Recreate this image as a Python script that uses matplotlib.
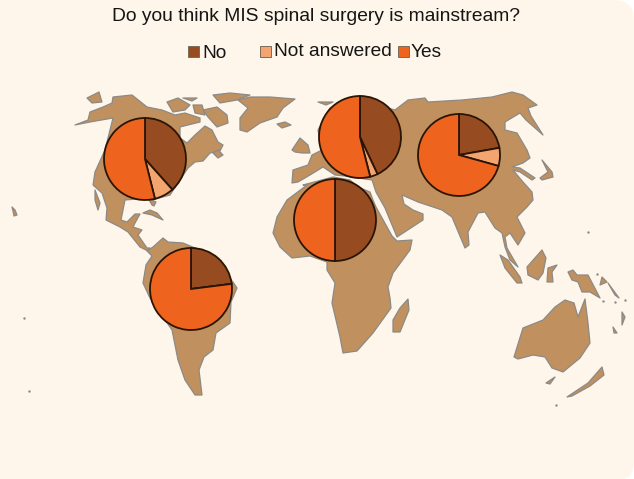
import matplotlib
matplotlib.use("Agg")
import matplotlib.pyplot as plt
from matplotlib.patches import PathPatch, Polygon, Rectangle
from matplotlib.path import Path

W, H = 634, 479
plt.rcParams['font.family'] = ['Liberation Sans', 'DejaVu Sans']

# ---- chart data ----
title = "Do you think MIS spinal surgery is mainstream?"
categories = ["No", "Not answered", "Yes"]
colors = ["#964B20", "#F4A46E", "#EE641E"]
north_america = [38.4, 7.7, 53.9]
south_america = [23.0, 0.0, 77.0]
europe = [43.0, 3.0, 54.0]
asia = [22.2, 7.1, 70.7]
africa = [50.0, 0.0, 50.0]

# pie centres in picture pixels
pie_sites = [(north_america, 145, 159), (south_america, 191, 289),
             (europe, 360, 137), (asia, 459, 155), (africa, 335, 220)]

# ---- base-map outlines, traced in picture pixels ----
land_shapes = [
    # North America
    [(75,125),(88,120),(90,112),(103,107),(112,103),(113,97),(132,95),(147,107),(162,110),(175,115),
     (185,113),(200,118),(200,122),(180,127),(180,138),(187,143),(195,135),(205,126),(212,130),(218,142),
     (223,145),(220,151),(210,153),(203,161),(195,162),(188,168),(170,195),(152,200),(156,202),(154,206),
     (152,205),(148,198),(125,200),(121,220),(127,222),(135,214),(140,214),(135,223),(133,227),(142,230),
     (138,235),(147,248),(150,248),(148,251),(140,247),(128,232),(120,227),(106,220),(107,208),(102,193),
     (93,185),(95,172),(105,150),(113,118),(90,122)],
    [(95,190),(100,203),(98,210),(95,200)],
    [(87,98),(99,92),(102,102),(92,103)],
    [(167,102),(178,98),(190,105),(185,110),(173,112)],
    [(183,98),(197,98),(192,101)],
    [(203,110),(217,107),(227,115),(228,123),(217,127),(208,117)],
    [(193,105),(202,105),(205,115),(195,113)],
    [(213,95),(230,93),(250,95),(237,100),(220,103)],
    # Greenland, Iceland, Newfoundland, Cuba
    [(238,100),(250,97),(270,97),(295,99),(283,108),(277,117),(260,123),(247,132),(240,130),(240,118),(248,108)],
    [(277,124),(285,122),(291,125),(282,128)],
    [(213,153),(218,150),(223,155),(218,158)],
    [(143,213),(150,210),(157,213),(163,220),(152,215)],
    # South America
    [(147,251),(153,247),(163,238),(168,242),(183,243),(200,250),(233,282),(237,288),(231,302),(230,323),
     (216,333),(213,350),(204,357),(199,370),(202,395),(195,395),(185,380),(178,360),(172,330),(150,298),
     (143,283),(146,265),(152,256)],
    # Eurasia
    [(292,183),(293,170),(308,165),(312,155),(322,150),(318,130),(330,108),(360,100),(395,110),(408,100),
     (425,98),(428,102),(462,100),(492,97),(512,92),(523,95),(537,105),(528,108),(531,116),(543,135),
     (526,120),(520,113),(505,122),(505,130),(517,133),(527,150),(530,158),(523,163),(512,167),(520,168),
     (535,178),(532,180),(520,172),(513,170),(523,182),(532,192),(533,200),(527,207),(517,217),(525,233),
     (518,245),(510,233),(505,237),(507,248),(518,267),(510,260),(505,247),(502,233),(495,228),(485,212),
     (478,213),(468,232),(469,245),(465,248),(452,217),(442,210),(418,202),(402,195),(404,204),(413,210),
     (423,214),(423,220),(397,237),(385,208),(376,192),(372,180),(345,176),(335,175),(323,167),(310,175),
     (298,182)],
    # Africa
    [(303,185),(333,177),(350,180),(358,187),(370,192),(373,200),(376,207),(392,236),(397,241),(412,240),
     (410,250),(393,273),(388,287),(390,298),(391,308),(373,333),(357,351),(343,353),(340,337),(332,303),
     (335,283),(327,270),(327,262),(310,256),(292,258),(280,247),(273,233),(277,217),(287,200),(307,185)],
    # Madagascar, Britain, far-north scrap
    [(408,299),(409,310),(400,332),(393,332),(393,320),(400,308)],
    [(292,150),(300,138),(308,145),(310,153),(302,153),(295,152)],
    [(318,102),(333,102),(326,105)],
    # Japan, Indonesia, New Guinea
    [(542,160),(552,172),(553,177),(542,180),(540,178),(548,172)],
    [(500,255),(508,260),(520,277),(522,283),(517,283),(505,268)],
    [(527,267),(542,250),(546,258),(543,273),(538,280),(528,275)],
    [(547,282),(548,268),(557,265),(552,272),(553,282)],
    [(568,272),(573,270),(577,275),(588,275),(600,298),(590,292),(582,292),(578,282),(572,280)],
    [(602,277),(607,282),(600,285)],
    [(608,283),(619,298),(615,295)],
    # Australia, Tasmania, New Zealand
    [(514,357),(523,328),(543,320),(555,307),(565,300),(574,303),(578,317),(585,299),(588,323),(590,343),
     (580,358),(563,372),(552,368),(545,357),(533,355),(518,359)],
    [(546,383),(555,377),(550,384)],
    [(567,397),(588,383),(602,367),(604,375),(590,386),(572,396)],
    # small islands
    [(613,327),(617,333),(614,333)],
    [(622,312),(625,317),(622,325)],
    [(12,207),(15,210),(17,215),(14,216),(13,211)],
]
island_dots = [(23.5, 318), (29, 391), (625, 300), (615, 302), (603, 301), (556, 405), (597, 274), (588, 232)]

fig = plt.figure(figsize=(W / 100, H / 100), dpi=100, facecolor="white")
ax = fig.add_axes([0, 0, 1, 1])

BG = "#FEF6EA"
LAND = "#C0905F"
EDGE = "#8C8A86"


def flip(y):
    return H - y


# panel with clipped right corners
verts = [(0, 0), (W - 12, 0), (W, 0), (W, 18), (W, H - 20), (W, H), (W - 20, H), (0, H), (0, 0)]
codes = [Path.MOVETO, Path.LINETO, Path.CURVE3, Path.CURVE3, Path.LINETO,
         Path.CURVE3, Path.CURVE3, Path.LINETO, Path.CLOSEPOLY]
ax.add_patch(PathPatch(Path(verts, codes), facecolor=BG, edgecolor="none"))

for shape in land_shapes:
    pts = [(x, flip(y)) for x, y in shape]
    ax.add_patch(Polygon(pts, closed=True, facecolor=LAND, edgecolor=EDGE, linewidth=0.9, joinstyle="round"))
ax.scatter([p[0] for p in island_dots], [flip(p[1]) for p in island_dots], s=3, color=EDGE, linewidths=0)

for values, cx, cy in pie_sites:
    ax.pie(values, colors=colors, center=(cx, flip(cy)), radius=41, startangle=90,
           counterclock=False, frame=True,
           wedgeprops=dict(edgecolor="#2A1505", linewidth=1.3))

ax.set_xlim(0, W)
ax.set_ylim(0, H)
ax.set_aspect("auto")
ax.axis("off")

ax.text(315.5, flip(16.5), title, ha="center", va="center", fontsize=13.85, color="#151515")

legend_boxes = [188, 260, 398]
legend_text_x = [202, 274, 411]
legend_text_y = [53.5, 51.5, 52]
for name, col, bx, tx, ty in zip(categories, colors, legend_boxes, legend_text_x, legend_text_y):
    ax.add_patch(Rectangle((bx, flip(56.5)), 10.5, 10.5, facecolor=col, edgecolor="#7d6a58", linewidth=0.7))
    ax.text(tx, flip(ty), name, ha="left", va="center", fontsize=13.8, color="#151515")

fig.savefig("out.png", dpi=100, facecolor="white")
